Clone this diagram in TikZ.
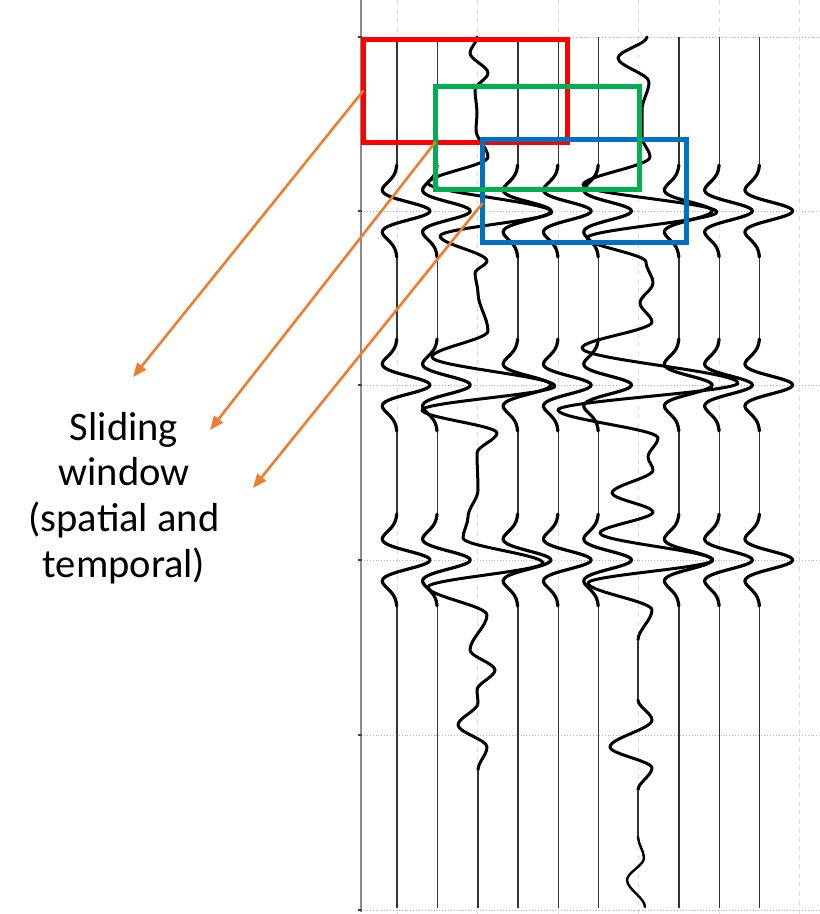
\documentclass[tikz,border=0pt]{standalone}
\usepackage{fontspec}
\setmainfont{Carlito}
\usetikzlibrary{arrows.meta,calc}
\definecolor{winred}{RGB}{255,0,0}
\definecolor{wingreen}{RGB}{0,176,80}
\definecolor{winblue}{RGB}{0,112,192}
\definecolor{arrorange}{RGB}{237,125,49}
\begin{document}
\begin{tikzpicture}[x=1pt,y=-1pt,
  declare function={rk(\t)=(1-0.0068*\t*\t)*exp(-0.0034*\t*\t);},
  gridh/.style={draw=black!30,line width=0.9pt,dotted},
  gridv/.style={draw=black!13,line width=0.9pt,dash pattern=on 5pt off 4pt},
  axisline/.style={draw=black!45,line width=1.4pt},
  tickmark/.style={draw=black!75,line width=1.6pt},
  thinw/.style={draw=black!80,line width=1.3pt},
  thickw/.style={draw=black,line width=3.2pt,line cap=round,line join=round},
  noisy/.style={draw=black,line width=3pt,line cap=round,line join=round},
  win/.style={draw,line width=5pt,minimum width=204pt,minimum height=103pt,inner sep=0pt,outer sep=0pt},
  pointer/.style={draw=arrorange,line width=2.6pt,-{Triangle[length=14pt,width=11pt]}},
  lbl/.style={font=\fontsize{40.5}{45.7}\selectfont,align=center,inner sep=0pt}]
\fill[white] (0,0) rectangle (820,914);
\useasboundingbox (0,0) rectangle (820,914);
% grid
\foreach \gy in {37,211,385,560,735,910} \draw[gridh] (361,\gy) -- (820,\gy);
\foreach \gx in {397,477.6,558.2,638.8,719.4,799.7} \draw[gridv] (\gx,0) -- (\gx,914);
\draw[axisline] (361,0) -- (361,912);
\foreach \gy in {37,211,385,560,735,910} \draw[tickmark] (358,\gy) -- (361.5,\gy);
% clean traces
\foreach \i in {1,2,4,5,6,8,9,10} {
  \pgfmathsetmacro\bx{397+40.3*(\i-1)}
  \draw[thinw] (\bx,37) -- (\bx,165) (\bx,257) -- (\bx,339) (\bx,431) -- (\bx,514) (\bx,606) -- (\bx,908);
  \foreach \c in {211,385,560} {
    \pgfmathsetmacro\ya{\c-46}
    \pgfmathsetmacro\yb{\c+46}
    \draw[thickw] plot[domain=\ya:\yb,samples=61,variable=\t] ({\bx+33*rk(\t-\c)},\t);
  }
}
% noisy trace 3
\draw[noisy] (477,37) \foreach \px/\py [remember=\py as \qy (initially 37)] in
  {470/53,488/73,475/90,477/113,476/130,488/157,428/183,552/212,440/236,487/261,475/273,478/293,488/331,432/357,555/386,422/410,497/433,477/453,478/490,468/517,463/538,543/563,428/587,487/615,470/650,495/670,477/690,478/703,458/725,487/747,478/770}
  { .. controls +(0,{0.33*(\py-\qy)}) and +(0,{-0.33*(\py-\qy)}) .. (\px,\py) };
\draw[thinw] (478,770) -- (478,908);
% noisy trace 7
\draw[noisy] (647,37) \foreach \px/\py [remember=\py as \qy (initially 37)] in
  {618/58,649/82,642/110,642/137,650/157,583/185,717/212,587/238,646/262,653/283,640/303,652/322,582/348,738/383,558/410,658/438,648/457,653/470,612/493,653/512,600/533,713/560,588/583,652/610,638/640}
  { .. controls +(0,{0.33*(\py-\qy)}) and +(0,{-0.33*(\py-\qy)}) .. (\px,\py) };
\draw[thinw] (638,640) -- (638,700);
\draw[noisy] (638,700) \foreach \px/\py [remember=\py as \qy (initially 700)] in
  {652/720,610/747,652/768,638/790}
  { .. controls +(0,{0.33*(\py-\qy)}) and +(0,{-0.33*(\py-\qy)}) .. (\px,\py) };
\draw[thinw] (638,790) -- (638,837);
\draw[noisy,line width=2.4pt] (638,837) \foreach \px/\py [remember=\py as \qy (initially 837)] in
  {644/858,627/880,645/907}
  { .. controls +(0,{0.33*(\py-\qy)}) and +(0,{-0.33*(\py-\qy)}) .. (\px,\py) };
% windows
\node[win,draw=winred] (red) at (465.5,90.5) {};
\node[win,draw=winblue] (blue) at (584.75,191) {};
\node[win,draw=wingreen] (green) at (537.5,138) {};
% label
\node[lbl] (label) at (124,498) {Sliding\\window\\(spatial and\\temporal)};
% arrows
\coordinate (s2) at (green.west |- red.south);
\coordinate (s3) at ($(blue.west)+(0,12)$);
\coordinate (e1) at (133,377);
\coordinate (e2) at (210,430);
\coordinate (e3) at (253,488);
\draw[pointer] (red.west) -- (e1);
\draw[pointer] (s2) -- (e2);
\draw[pointer] (s3) -- (e3);
\end{tikzpicture}
\end{document}
